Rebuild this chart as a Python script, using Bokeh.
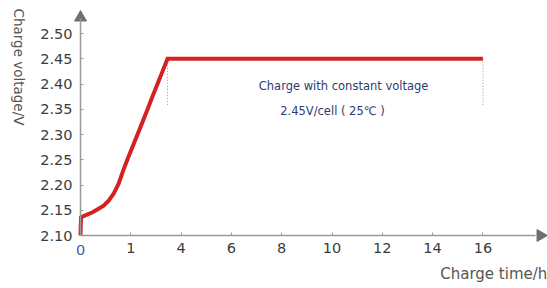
import numpy as np
from bokeh.plotting import figure
from bokeh.models import Range1d, FixedTicker, Label
from bokeh.embed import file_html
from bokeh.resources import INLINE

# ---- data ----
hour_ticks = [0, 1, 4, 6, 8, 10, 12, 14, 16]          # x tick labels (hours, non-linear spacing)
y_ticks = [2.10, 2.15, 2.20, 2.25, 2.30, 2.35, 2.40, 2.45, 2.50]
charge_hours = [0, 0.01, 0.12, 0.24, 0.36, 0.46, 0.56, 0.66, 0.76, 0.85, 0.95,
                1.16, 1.58, 2.00, 2.29, 2.59, 2.89, 3.19, 16]
charge_volts = [2.10, 2.136, 2.141, 2.146, 2.153, 2.159, 2.169, 2.183, 2.203, 2.229, 2.255,
                2.280, 2.315, 2.350, 2.375, 2.400, 2.425, 2.45, 2.45]
marker_hours = [3.19, 16]
marker_top = 2.45
marker_bottom = 2.355

positions = list(range(len(hour_ticks)))
def to_pos(h):
    return np.interp(h, hour_ticks, positions)

GREY = "#9a9a9a"
TXT = "#3c3c3c"
NAVY = "#2e3b73"
FONT = "DejaVu Sans"

p = figure(width=547, height=288, output_backend="svg", toolbar_location=None,
           x_range=Range1d(-1.5905, 9.2843), y_range=Range1d(1.99505, 2.56535),
           min_border=0)
p.outline_line_color = None
p.grid.visible = False
p.background_fill_color = "white"

# axes, placed inside the frame
p.xaxis.fixed_location = 2.10
p.yaxis.fixed_location = 0
p.xaxis.bounds = (0, 9.05)
p.yaxis.bounds = (2.10, 2.53)
p.xaxis.ticker = FixedTicker(ticks=positions)
p.xaxis.major_label_overrides = {i: ("" if h == 0 else str(h)) for i, h in enumerate(hour_ticks)}
p.yaxis.ticker = FixedTicker(ticks=y_ticks)
p.yaxis.major_label_overrides = {v: f"{v:.2f}" for v in y_ticks}
for ax in (p.xaxis, p.yaxis):
    ax.axis_line_color = GREY
    ax.axis_line_width = 1.5
    ax.major_tick_line_color = GREY
    ax.major_tick_in = 3
    ax.major_tick_out = 0
    ax.minor_tick_line_color = None
    ax.major_label_text_color = TXT
    ax.major_label_text_font = FONT
    ax.major_label_text_font_size = "14.5px"
p.xaxis.major_label_standoff = 7
p.yaxis.major_label_standoff = 8

# arrow heads at axis ends
p.scatter([9.145], [2.10], marker="triangle", size=12, angle=-np.pi / 2,
          fill_color="#6f6f6f", line_color="#6f6f6f")
p.scatter([0], [2.5316], marker="triangle", size=12,
          fill_color="#6f6f6f", line_color="#6f6f6f")

# "0" label in blue
p.add_layout(Label(x=0, y=2.0703, text="0", text_color="#4a5aa0",
                   text_font=FONT, text_font_size="14.5px",
                   text_align="center", text_baseline="middle"))

# dotted markers
for h in marker_hours:
    xp = float(to_pos(h))
    p.line([xp, xp], [marker_top, marker_bottom], line_color="#8a90b8",
           line_dash="1 2", line_width=1)

# charge curve
p.line(to_pos(charge_hours), charge_volts, line_color="#d42222", line_width=4,
       line_join="miter")

# annotations
p.add_layout(Label(x=5.23, y=2.397, text="Charge with constant voltage", text_color=NAVY,
                   text_font=FONT, text_font_size="11.5px", text_align="center",
                   text_baseline="middle"))
p.add_layout(Label(x=5.01, y=2.3475, text="2.45V/cell ( 25℃ )", text_color=NAVY,
                   text_font=FONT, text_font_size="11.5px", text_align="center",
                   text_baseline="middle"))

# axis titles
p.add_layout(Label(x=-1.213, y=2.5495, text="Charge voltage/V",
                   angle=-np.pi / 2, text_color="#555555", text_font=FONT,
                   text_font_size="13.5px", text_align="left", text_baseline="middle"))
p.add_layout(Label(x=9.28, y=2.0247, text="Charge time/h",
                   text_color="#555555", text_font=FONT, text_font_size="15px",
                   text_align="right", text_baseline="middle"))

open("out.html", "w").write(file_html(p, INLINE))
